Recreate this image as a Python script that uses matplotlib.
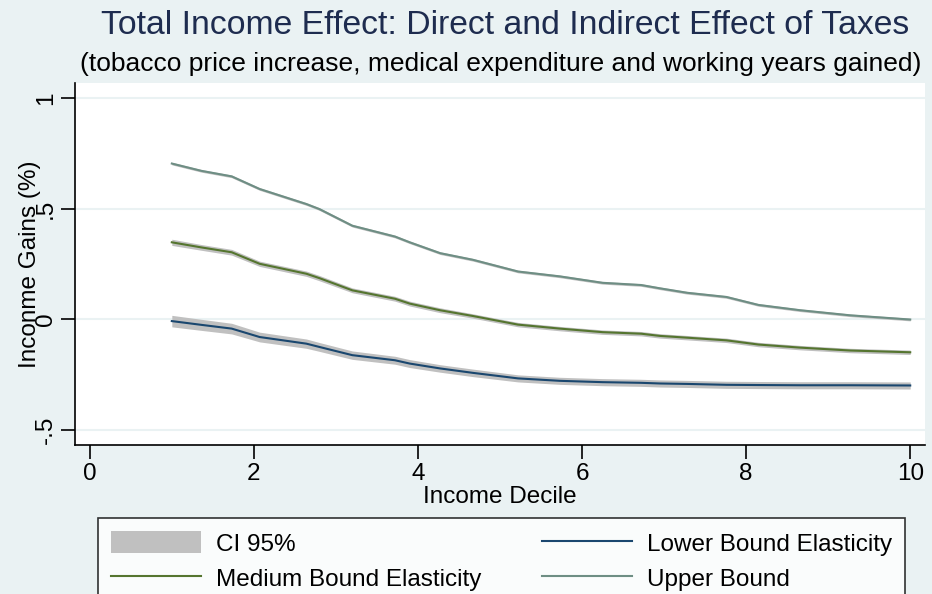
import numpy as np
import matplotlib
matplotlib.use("Agg")
import matplotlib.pyplot as plt
from matplotlib.patches import Patch
from matplotlib.lines import Line2D

# values
decile = [1.0, 1.36, 1.73, 2.07, 2.64, 2.80, 3.20, 3.72, 3.90, 4.27, 4.67,
          5.22, 5.73, 6.25, 6.72, 6.95, 7.28, 7.76, 8.15, 8.66, 9.27, 10.0]

upper = [0.704, 0.671, 0.646, 0.589, 0.521, 0.498, 0.423, 0.374, 0.348, 0.299, 0.269,
         0.216, 0.194, 0.165, 0.155, 0.140, 0.120, 0.101, 0.065, 0.041, 0.018, -0.001]
medium = [0.348, 0.325, 0.303, 0.251, 0.206, 0.186, 0.131, 0.093, 0.071, 0.041, 0.015,
          -0.024, -0.042, -0.058, -0.065, -0.075, -0.083, -0.095, -0.114, -0.128, -0.141, -0.149]
lower = [-0.008, -0.025, -0.042, -0.080, -0.110, -0.125, -0.162, -0.185, -0.200, -0.222, -0.242,
         -0.267, -0.278, -0.284, -0.287, -0.290, -0.292, -0.296, -0.297, -0.298, -0.298, -0.299]

# half widths of the 95% bands
ci_upper = [0.006] * len(decile)
ci_medium = [0.014, 0.013, 0.013, 0.012, 0.012, 0.012, 0.011, 0.011, 0.011, 0.011, 0.010,
             0.010, 0.010, 0.010, 0.010, 0.010, 0.010, 0.010, 0.010, 0.010, 0.010, 0.010]
ci_lower = [0.026, 0.025, 0.024, 0.022, 0.021, 0.020, 0.019, 0.018, 0.018, 0.017, 0.017,
            0.016, 0.016, 0.016, 0.016, 0.016, 0.016, 0.016, 0.016, 0.016, 0.016, 0.016]

yticks = [-0.5, 0, 0.5, 1]
ytick_labels = ['-.5', '0', '.5', '1']
xticks = [0, 2, 4, 6, 8, 10]

bg = '#eaf2f3'
c_lower = '#1a476f'
c_medium = '#55752f'
c_upper = '#6e8e84'
c_ci = '#c0c0c0'

plt.rcParams['font.family'] = ['Liberation Sans', 'DejaVu Sans']

fig = plt.figure( figsize=( 9.32, 5.94 ), dpi=100, facecolor=bg )
ax = fig.add_axes( [ 75/932, 1-445/594, 850/932, 362/594 ] )
ax.set_facecolor( 'white' )

x = np.array( decile )
for y, ci in [ ( lower, ci_lower ), ( medium, ci_medium ), ( upper, ci_upper ) ]:
    y = np.array( y )
    ci = np.array( ci )
    ax.fill_between( x, y - ci, y + ci, color=c_ci, lw=0, zorder=2 )

ax.plot( x, lower, color=c_lower, lw=1.5, zorder=3 )
ax.plot( x, medium, color=c_medium, lw=1.5, zorder=3 )
ax.plot( x, upper, color=c_upper, lw=1.5, zorder=3 )

ax.set_xlim( -0.18, 10.18 )
ax.set_ylim( -0.568, 1.068 )
ax.set_yticks( yticks )
ax.set_yticklabels( ytick_labels )
ax.set_xticks( xticks )

ax.grid( axis='y', color=bg, lw=1.5, zorder=1 )
ax.set_axisbelow( True )
for s in [ 'top', 'right' ]:
    ax.spines[s].set_visible( False )
for s in [ 'left', 'bottom' ]:
    ax.spines[s].set_linewidth( 1.2 )

fs = 17.5
ax.tick_params( axis='both', direction='out', length=10, width=1.2, labelsize=fs )
ax.tick_params( axis='y', labelrotation=90, pad=3 )
ax.tick_params( axis='x', pad=3 )
for lab in ax.get_yticklabels():
    lab.set_va( 'center' )

ax.set_xlabel( 'Income Decile', fontsize=fs, labelpad=1 )
ax.set_ylabel( 'Inconme Gains (%)', fontsize=fs )
ax.yaxis.set_label_coords( -0.040, 0.5 )

fig.text( 505/932, 1-25/594, 'Total Income Effect: Direct and Indirect Effect of Taxes',
          fontsize=24.3, color='#1e2c4f', ha='center', va='center' )
fig.text( 501/932, 1-64/594, '(tobacco price increase, medical expenditure and working years gained)',
          fontsize=19, color='black', ha='center', va='center' )

handles = [ Patch( facecolor=c_ci, edgecolor='none' ),
            Line2D( [], [], color=c_medium, lw=1.5 ),
            Line2D( [], [], color=c_lower, lw=1.5 ),
            Line2D( [], [], color=c_upper, lw=1.5 ) ]
labels = [ 'CI 95%', 'Medium Bound Elasticity', 'Lower Bound Elasticity', 'Upper Bound' ]

leg = fig.legend( handles, labels, ncol=2, loc='upper left',
                  bbox_to_anchor=( 98/932, 1-518/594, 807/932, 0 ), mode='expand',
                  fontsize=fs, frameon=True, fancybox=False, edgecolor='black',
                  handlelength=3.7, handleheight=1.0, handletextpad=0.6,
                  labelspacing=0.45, borderpad=0.55, borderaxespad=0 )
leg.get_frame().set_linewidth( 1.2 )
leg.get_frame().set_facecolor( 'white' )

fig.savefig( 'out.png', dpi=100, facecolor=bg )
